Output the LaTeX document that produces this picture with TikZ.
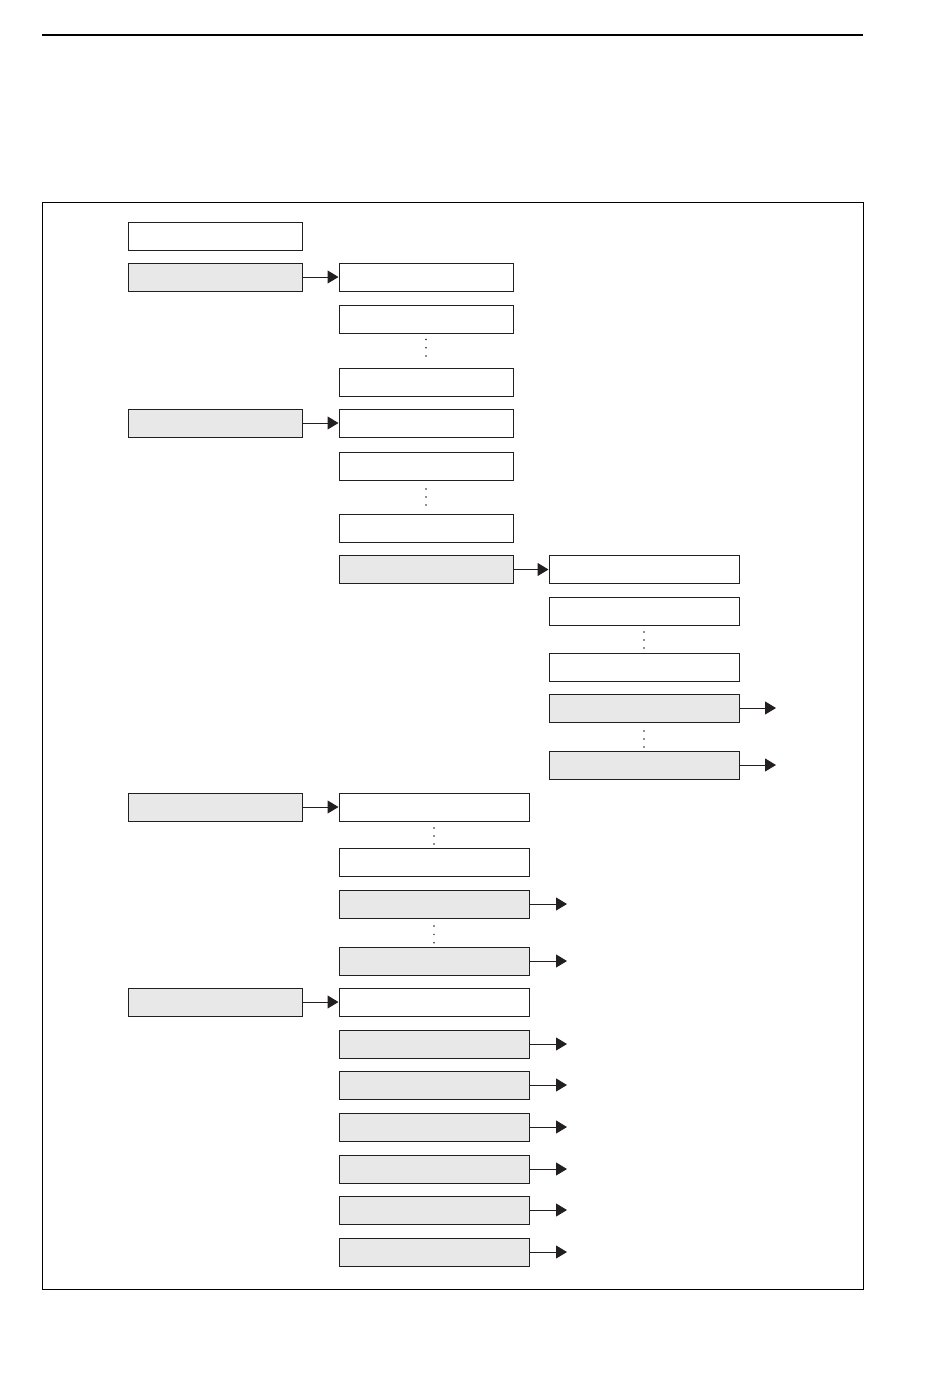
\documentclass[tikz,border=0pt]{standalone}
\usetikzlibrary{arrows.meta}
\definecolor{ink}{HTML}{231F20}
\definecolor{boxgray}{HTML}{E8E8E8}
\tikzset{
  wbox/.style={draw=ink, line width=0.75pt, inner sep=0pt, minimum height=21pt, fill=white},
  gbox/.style={wbox, fill=boxgray},
  narrow/.style={minimum width=130.5pt},
  wide/.style={minimum width=142.5pt},
  conn/.style={draw=ink, line width=0.75pt, -{Triangle[length=8.25pt,width=9.75pt]}},
  dotmark/.style={circle, fill=ink, inner sep=0pt, minimum size=1.2pt},
  rule/.style={draw=black, line width=0.9pt},
  frameline/.style={draw=black, line width=0.75pt},
}
\begin{document}
\begin{tikzpicture}[x=0.75pt,y=-0.75pt]
\useasboundingbox (0,0) rectangle (950,1378);
% top rule and frame
\coordinate (rl) at (42,35);
\coordinate (rr) at (863,35);
\draw[rule] (rl) -- (rr);
\coordinate (ftl) at (42,202);
\coordinate (fbr) at (863,1289);
\draw[frameline] (ftl) rectangle (fbr);

% column 1
\node[wbox,narrow] (c1a) at (215,236) {};
\node[gbox,narrow] (c1b) at (215,277) {};
\node[gbox,narrow] (c1c) at (215,423) {};
\node[gbox,narrow] (c1d) at (215,807) {};
\node[gbox,narrow] (c1e) at (215,1002) {};

% column 2, first group
\node[wbox,narrow] (a1) at (426,277) {};
\node[wbox,narrow] (a2) at (426,319) {};
\node[dotmark] (da1) at (426,339.5) {};
\node[dotmark] (da2) at (426,347.7) {};
\node[dotmark] (da3) at (426,356) {};
\node[wbox,narrow] (a3) at (426,382) {};
\node[wbox,narrow] (b1) at (426,423) {};
\node[wbox,narrow] (b2) at (426,466) {};
\node[dotmark] (db1) at (426,489) {};
\node[dotmark] (db2) at (426,497) {};
\node[dotmark] (db3) at (426,505) {};
\node[wbox,narrow] (b3) at (426,528) {};
\node[gbox,narrow] (b4) at (426,569.5) {};

% column 3
\node[wbox,wide] (d1) at (644,569.5) {};
\node[wbox,wide] (d2) at (644,611) {};
\node[dotmark] (dd1) at (644,632) {};
\node[dotmark] (dd2) at (644,640) {};
\node[dotmark] (dd3) at (644,648) {};
\node[wbox,wide] (d3) at (644,667) {};
\node[gbox,wide] (d4) at (644,708) {};
\node[dotmark] (dd4) at (644,731) {};
\node[dotmark] (dd5) at (644,739) {};
\node[dotmark] (dd6) at (644,747) {};
\node[gbox,wide] (d5) at (644,765) {};

% column 2, second group
\node[wbox,wide] (e1) at (434,807) {};
\node[dotmark] (de1) at (434,828) {};
\node[dotmark] (de2) at (434,836) {};
\node[dotmark] (de3) at (434,844) {};
\node[wbox,wide] (e2) at (434,862) {};
\node[gbox,wide] (e3) at (434,904) {};
\node[dotmark] (de4) at (434,926) {};
\node[dotmark] (de5) at (434,934.3) {};
\node[dotmark] (de6) at (434,942.7) {};
\node[gbox,wide] (e4) at (434,961) {};
\node[wbox,wide] (f1) at (434,1002) {};
\node[gbox,wide] (f2) at (434,1044) {};
\node[gbox,wide] (f3) at (434,1085) {};
\node[gbox,wide] (f4) at (434,1127) {};
\node[gbox,wide] (f5) at (434,1169) {};
\node[gbox,wide] (f6) at (434,1210) {};
\node[gbox,wide] (f7) at (434,1252) {};

% connectors between boxes
\draw[conn] (c1b.east) -- (a1.west);
\draw[conn] (c1c.east) -- (b1.west);
\draw[conn] (b4.east) -- (d1.west);
\draw[conn] (c1d.east) -- (e1.west);
\draw[conn] (c1e.east) -- (f1.west);

% free arrows
\coordinate (d4t) at (776,708);
\coordinate (d5t) at (776,765);
\draw[conn] (d4.east) -- (d4t);
\draw[conn] (d5.east) -- (d5t);
\foreach \n/\yy in {e3/904,e4/961,f2/1044,f3/1085,f4/1127,f5/1169,f6/1210,f7/1252}{
  \coordinate (\n t) at (567,\yy);
  \draw[conn] (\n.east) -- (\n t);
}
\end{tikzpicture}
\end{document}
